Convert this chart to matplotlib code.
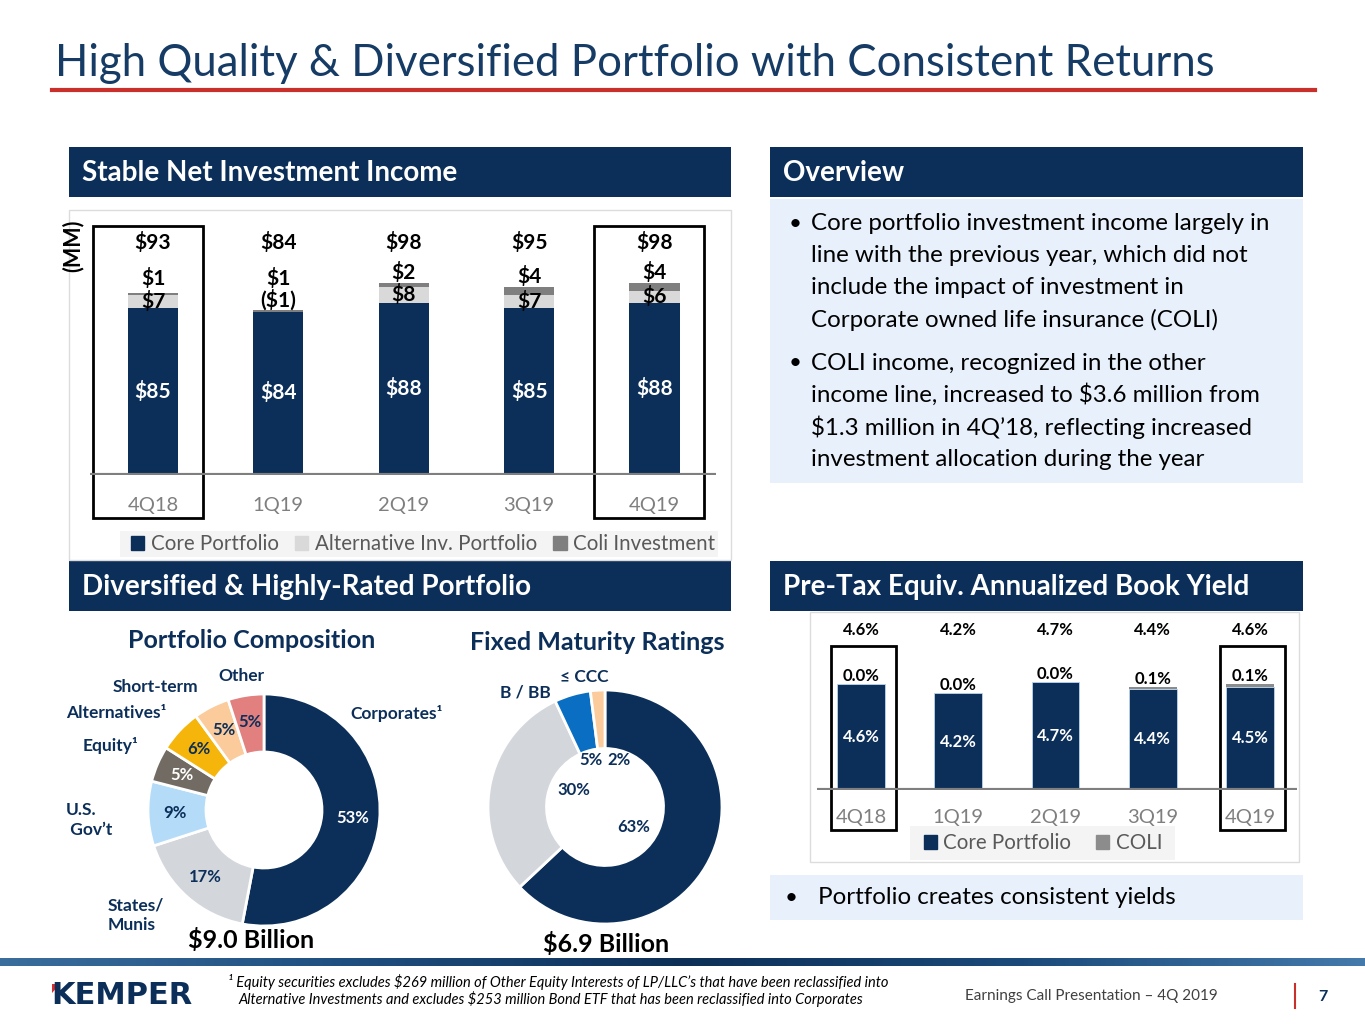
import numpy as np
import matplotlib.pyplot as plt
from matplotlib.patches import Rectangle, Patch, Polygon
from matplotlib.colors import LinearSegmentedColormap

plt.rcParams['font.family'] = ['Lato', 'DejaVu Sans']

W, H = 1365, 1024
NAVY = '#0c2f5a'
TITLE_C = '#163c66'
GRAY_TXT = '#7f7f7f'

# net investment income ($MM)
quarters = ['4Q18', '1Q19', '2Q19', '3Q19', '4Q19']
core_inc = [85, 84, 88, 85, 88]
alt_inc = [7, -1, 8, 7, 6]
coli_inc = [1, 1, 2, 4, 4]
total_inc = [93, 84, 98, 95, 98]

# pre-tax equiv. annualized book yield (%)
core_yield = [4.6, 4.2, 4.7, 4.4, 4.5]
coli_yield = [0.0, 0.0, 0.0, 0.1, 0.1]
total_yield = [4.6, 4.2, 4.7, 4.4, 4.6]

# portfolio composition (%)
comp_names = ['Corporates\u00b9', 'States/\nMunis', 'U.S.\n Gov\u2019t', 'Equity\u00b9',
              'Alternatives\u00b9', 'Short-term', 'Other']
comp_share = [53, 17, 9, 5, 6, 5, 5]
comp_colors = [NAVY, '#d3d6db', '#b4dcf9', '#726b63', '#f6b50b', '#fbcb9c', '#e27f7f']
comp_pct_colors = ['white', NAVY, NAVY, 'white', NAVY, NAVY, NAVY]

# fixed maturity ratings (%)
rating_names = ['A or Higher', 'BBB', 'B / BB', '\u2264 CCC']
rating_share = [63, 30, 5, 2]
rating_colors = [NAVY, '#d3d6db', '#0a6fc2', '#fbcb9c']

overview = [
    ['Core portfolio investment income largely in',
     'line with the previous year, which did not',
     'include the impact of investment in',
     'Corporate owned life insurance (COLI)'],
    ['COLI income, recognized in the other',
     'income line, increased to $3.6 million from',
     '$1.3 million in 4Q\u201918, reflecting increased',
     'investment allocation during the year'],
]

fig = plt.figure(figsize=(13.65, 10.24), dpi=100)
bg = fig.add_axes([0, 0, 1, 1])
bg.set_xlim(0, W)
bg.set_ylim(H, 0)
bg.axis('off')


def px_axes(x0, y0, x1, y1):
    a = fig.add_axes([x0 / W, 1 - y1 / H, (x1 - x0) / W, (y1 - y0) / H])
    a.patch.set_alpha(0)
    return a


def header(x0, x1, y0, text):
    bg.add_patch(Rectangle((x0, y0), x1 - x0, 50, color=NAVY, lw=0))
    bg.text(x0 + 13, y0 + 26, text, color='white', fontsize=20, fontweight='bold', va='center')


# title
bg.text(55, 64, 'High Quality & Diversified Portfolio with Consistent Returns',
        fontsize=31.5, color=TITLE_C, va='center')
bg.plot([52, 1315], [90, 90], color='#c9302c', lw=3)

header(69, 731, 147, 'Stable Net Investment Income')
header(770, 1303, 147, 'Overview')
header(69, 731, 561, 'Diversified & Highly-Rated Portfolio')
header(770, 1303, 561, 'Pre-Tax Equiv. Annualized Book Yield')

# overview box
bg.add_patch(Rectangle((770, 199), 533, 284, color='#e8f1fb', lw=0))
y = 224
for para in overview:
    bg.text(789, y, '\u2022', fontsize=16, color='black', va='center')
    for line in para:
        bg.text(811, y, line, fontsize=17.4, color='black', va='center')
        y += 32
    y += 11

# bottom bullet box
bg.add_patch(Rectangle((770, 875), 533, 45, color='#e8f1fb', lw=0))
bg.text(785, 898, '\u2022', fontsize=16, va='center')
bg.text(818, 898, 'Portfolio creates consistent yields', fontsize=17.4, va='center')

# ---- net investment income chart ----
bg.add_patch(Rectangle((69, 210), 662, 350, fill=False, ec='#dcdcdc', lw=1))
bg.add_patch(Rectangle((120, 531), 598, 26, color='#f4f4f4', lw=0))
ax = px_axes(90, 215, 716, 475)
x = np.arange(len(quarters))
core = np.array(core_inc)
alt = np.array(alt_inc)
coli = np.array(coli_inc)
ax.bar(x, core, 0.4, color=NAVY)
ax.bar(x, alt, 0.4, bottom=core, color='#d9d9d9')
ax.bar(x, coli, 0.4, bottom=core + alt, color='#7f7f7f')
ax.set_xlim(-0.502, 4.49)
ax.set_ylim(0, 260 / 1.96)
ax.axhline(0, color='#7f7f7f', lw=3)
for s in ax.spines.values():
    s.set_visible(False)
ax.set_yticks([])
ax.set_xticks(x, quarters)
ax.tick_params(axis='x', length=0, pad=16, labelsize=14.5, labelcolor=GRAY_TXT)
for i in range(len(quarters)):
    ax.text(i, 118.4, f'${total_inc[i]}', ha='center', va='center', fontsize=15, fontweight='bold')
    ax.text(i, core[i] / 2, f'${core[i]}', ha='center', va='center', fontsize=15,
            fontweight='bold', color='white')
    if alt[i] >= 0:
        ax.text(i, core[i] + alt[i] / 2, f'${alt[i]}', ha='center', va='center',
                fontsize=15, fontweight='bold')
    else:
        ax.text(i, core[i], f'(${-alt[i]})', ha='center', va='bottom', fontsize=15, fontweight='bold')
    top = max(core[i] + alt[i] + coli[i], 95)
    ax.text(i, top, f'${coli[i]}', ha='center', va='bottom', fontsize=15, fontweight='bold')
for i in (0, 4):
    ax.add_patch(Rectangle((i - 0.48, -21.9), 0.877, 149, fill=False, ec='black', lw=2, clip_on=False))
ax.text(-0.64, 117, '(MM)', rotation=90, ha='center', va='center', fontsize=15.5, fontweight='bold')
fig.legend(handles=[Patch(color=NAVY), Patch(color='#d9d9d9'), Patch(color='#7f7f7f')],
           labels=['Core Portfolio', 'Alternative Inv. Portfolio', 'Coli Investment'],
           ncol=3, loc='center', bbox_to_anchor=(423 / W, 1 - 544 / H), frameon=False,
           fontsize=14.8, labelcolor='#595959', handlelength=0.65, handleheight=0.65,
           handletextpad=0.3, columnspacing=0.8)

# ---- book yield chart ----
bg.add_patch(Rectangle((810, 612), 489, 250, fill=False, ec='#dcdcdc', lw=1))
bg.add_patch(Rectangle((910, 826), 265, 34, color='#f4f4f4', lw=0))
ay = px_axes(817, 620, 1297, 790)
cy = np.array(core_yield)
ky = np.array(coli_yield)
ay.bar(x, cy, 0.49, color=NAVY, ec='#bcd3ea', lw=0.6)
ay.bar(x, ky, 0.49, bottom=cy, color='#8c8c8c')
ay.set_xlim(-0.452, 4.483)
ay.set_ylim(0, 170 / 23)
ay.axhline(0, color='#7f7f7f', lw=3)
for s in ay.spines.values():
    s.set_visible(False)
ay.set_yticks([])
ay.set_xticks(x, quarters)
ay.tick_params(axis='x', length=0, pad=14, labelsize=14.5, labelcolor=GRAY_TXT)
for i in range(len(quarters)):
    ay.text(i, 6.96, f'{total_yield[i]:.1f}%', ha='center', va='center', fontsize=12, fontweight='bold')
    ay.text(i, cy[i] / 2, f'{cy[i]:.1f}%', ha='center', va='center', fontsize=12,
            fontweight='bold', color='white')
    ay.text(i, cy[i] + ky[i], f'{ky[i]:.1f}%', ha='center', va='bottom', fontsize=12, fontweight='bold')
for i in (0, 4):
    ay.add_patch(Rectangle((i - 0.31, -40 / 23), 0.67, 184 / 23, fill=False, ec='black', lw=2, clip_on=False))
fig.legend(handles=[Patch(color=NAVY), Patch(color='#8c8c8c')],
           labels=['Core Portfolio', 'COLI'],
           ncol=2, loc='center', bbox_to_anchor=(1043 / W, 1 - 843 / H), frameon=False,
           fontsize=14.8, labelcolor='#595959', handlelength=0.65, handleheight=0.65,
           handletextpad=0.3, columnspacing=1.2)

# ---- portfolio composition donut ----
bg.text(252, 641, 'Portfolio Composition', ha='center', va='center', fontsize=18,
        fontweight='bold', color=NAVY)
ad = px_axes(264 - 116, 810 - 116, 264 + 116, 810 + 116)
wedges, _ = ad.pie(comp_share, colors=comp_colors, startangle=90, counterclock=False,
                   wedgeprops=dict(width=0.5, edgecolor='white', linewidth=2))
ad.set_xlim(-1, 1)
ad.set_ylim(-1, 1)
for w, s, c in zip(wedges, comp_share, comp_pct_colors):
    ang = np.deg2rad((w.theta1 + w.theta2) / 2)
    ad.text(0.77 * np.cos(ang), 0.77 * np.sin(ang), f'{s}%', ha='center', va='center',
            fontsize=12, fontweight='bold', color=c)
comp_lbl_pos = [(350, 713, 'left'), (108, 915, 'left'), (66, 820, 'left'), (138, 745, 'right'),
                (166, 713, 'right'), (198, 687, 'right'), (241, 676, 'center')]
for (px, py, ha), t in zip(comp_lbl_pos, comp_names):
    bg.text(px, py, t, ha=ha, va='center', fontsize=12.5, fontweight='bold', color=NAVY,
            linespacing=1.25)
bg.text(251, 940, '$9.0 Billion', ha='center', va='center', fontsize=18, fontweight='bold')

# ---- fixed maturity ratings donut ----
bg.text(597, 643, 'Fixed Maturity Ratings', ha='center', va='center', fontsize=18,
        fontweight='bold', color=NAVY)
ar = px_axes(605 - 117, 807 - 117, 605 + 117, 807 + 117)
wedges, _ = ar.pie(rating_share, colors=rating_colors, startangle=90, counterclock=False,
                   wedgeprops=dict(width=0.5, edgecolor='white', linewidth=2))
ar.set_xlim(-1, 1)
ar.set_ylim(-1, 1)
pct_r = [0.3, 0.3, 0.42, 0.42]
pct_shift = [-12, -18, 0, -20]
for w, s, r, sh in zip(wedges, rating_share, pct_r, pct_shift):
    ang = np.deg2rad((w.theta1 + w.theta2) / 2 + sh)
    ar.text(r * np.cos(ang), r * np.sin(ang), f'{s}%', ha='center', va='center',
            fontsize=12, fontweight='bold', color=NAVY)
rating_lbl_pos = [(616, 890, 'white'), (525, 818, NAVY), (525, 692, NAVY), (584, 677, NAVY)]
for (px, py, c), t in zip(rating_lbl_pos, rating_names):
    bg.text(px, py, t, ha='center', va='center', fontsize=12.5, fontweight='bold', color=c)
bg.text(606, 944, '$6.9 Billion', ha='center', va='center', fontsize=18, fontweight='bold')

# ---- footer ----
grad = np.linspace(0, 1, 300)
band = np.vstack([grad, grad])
cmap = LinearSegmentedColormap.from_list('band', ['#3a6c9c', '#1f4f80', '#0d2f57', '#1b4a7a', '#4479ab'])
bg.imshow(band, extent=[0, W, 966, 958], aspect='auto', cmap=cmap)
bg.set_xlim(0, W)
bg.set_ylim(H, 0)
bg.text(51, 996, 'KEMPER', fontsize=22, fontweight='bold', family='DejaVu Sans', color=NAVY, va='center')
bg.add_patch(Polygon([(52, 984), (60, 984), (52, 993)], closed=True, color='#d42e2e', lw=0))
bg.text(228, 982, '\u00b9 Equity securities excludes $269 million of Other Equity Interests of LP/LLC\u2019s that have been reclassified into',
        fontsize=10.5, style='italic', va='center')
bg.text(238, 999, 'Alternative Investments and excludes $253 million Bond ETF that has been reclassified into Corporates',
        fontsize=10.5, style='italic', va='center')
bg.text(965, 996, 'Earnings Call Presentation \u2013 4Q 2019', fontsize=11, color='#404040', va='center')
bg.plot([1295, 1295], [984, 1008], color='#c9302c', lw=1.5)
bg.text(1318, 997, '7', fontsize=11.5, fontweight='bold', color=NAVY, va='center')

fig.savefig('out.png', dpi=100)
